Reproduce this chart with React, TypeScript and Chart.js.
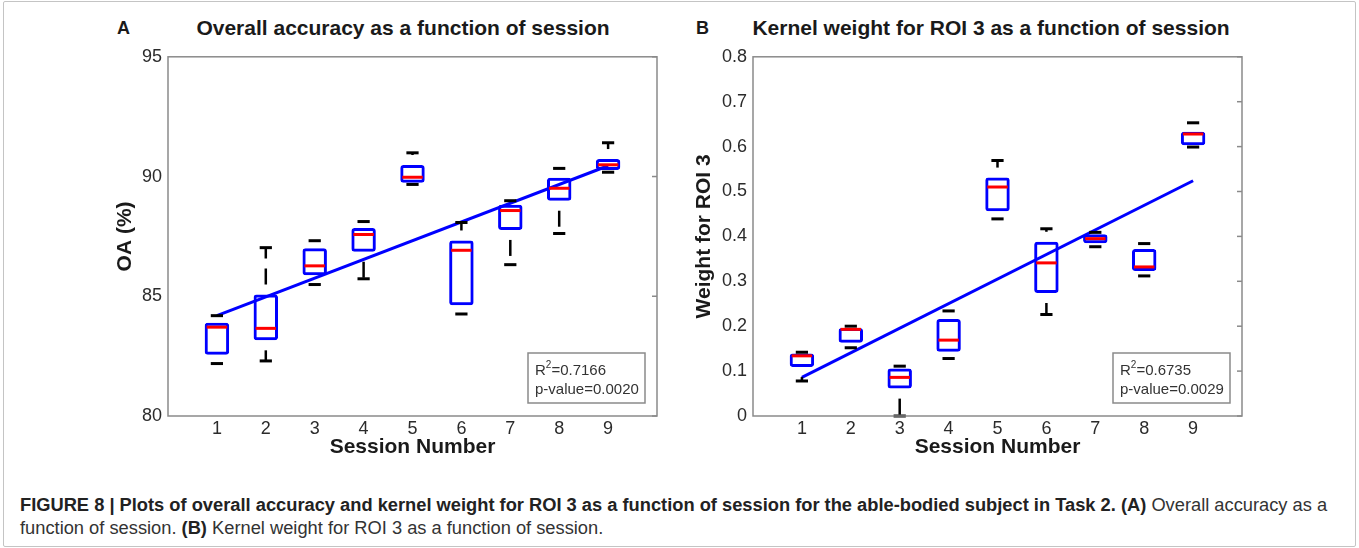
import React, { useEffect, useRef } from "react";
import { Chart, registerables } from "chart.js";

Chart.register(...registerables);

const FONT = '"Liberation Sans", Arial, sans-serif';
Chart.defaults.font.family = FONT;

// ---------- data ----------
const sessions = [1, 2, 3, 4, 5, 6, 7, 8, 9];
const xTickLabels = ["1", "2", "3", "4", "5", "6", "7", "8", "9"];

// Panel A: overall accuracy (%)
const oaLower = [82.19, 82.3, 85.49, 85.73, 89.67, 84.26, 86.32, 87.62, 90.18];
const oaQ1 = [82.56, 83.16, 85.88, 86.86, 89.74, 84.63, 87.77, 88.99, 90.27];
const oaMedian = [83.71, 83.66, 86.27, 87.58, 89.97, 86.92, 88.58, 89.51, 90.49];
const oaQ3 = [83.89, 85.07, 87.0, 87.85, 90.48, 87.33, 88.82, 89.95, 90.73];
const oaUpper = [84.19, 87.03, 87.32, 88.12, 90.99, 88.08, 88.99, 90.34, 91.41];
const oaFitX = [1, 9];
const oaFitY = [84.19, 90.45];
const oaStats = ["0.7166", "0.0020"];

// Panel B: kernel weight for ROI 3
const wLower = [0.078, 0.152, 0.0, 0.128, 0.439, 0.226, 0.377, 0.312, 0.599];
const wQ1 = [0.109, 0.163, 0.061, 0.143, 0.456, 0.274, 0.385, 0.323, 0.603];
const wMedian = [0.134, 0.193, 0.086, 0.169, 0.51, 0.341, 0.395, 0.332, 0.628];
const wQ3 = [0.139, 0.196, 0.106, 0.216, 0.531, 0.388, 0.405, 0.372, 0.633];
const wUpper = [0.142, 0.2, 0.111, 0.234, 0.569, 0.417, 0.409, 0.384, 0.653];
const wFitX = [1, 9];
const wFitY = [0.086, 0.524];
const wStats = ["0.6735", "0.0029"];

// ---------- plugins ----------
const boxExtras = {
  id: "boxExtras",
  afterDatasetsDraw(chart: any, _a: any, opts: any) {
    const { ctx } = chart;
    const xs = chart.scales.x;
    const ys = chart.scales.y;
    const seg = (x1: number, y1: number, x2: number, y2: number) => {
      ctx.beginPath();
      ctx.moveTo(x1, y1);
      ctx.lineTo(x2, y2);
      ctx.stroke();
    };
    ctx.save();
    ctx.lineCap = "butt";
    opts.x.forEach((s: number, i: number) => {
      const px = xs.getPixelForValue(s);
      const boxHalf = xs.getPixelForValue(s + 0.25) - px;
      const capHalf = xs.getPixelForValue(s + 0.125) - px;
      const yq1 = ys.getPixelForValue(opts.q1[i]);
      const yq3 = ys.getPixelForValue(opts.q3[i]);
      const ylo = ys.getPixelForValue(opts.lower[i]);
      const yhi = ys.getPixelForValue(opts.upper[i]);
      const ymed = ys.getPixelForValue(opts.median[i]);
      // dashed whiskers
      ctx.strokeStyle = "#000";
      ctx.lineWidth = 2.5;
      ctx.setLineDash([16, 10]);
      ctx.lineDashOffset = 16;
      seg(px, yq3, px, yhi);
      seg(px, yq1, px, ylo);
      // caps
      ctx.setLineDash([]);
      ctx.lineWidth = 3;
      seg(px - capHalf, yhi, px + capHalf, yhi);
      seg(px - capHalf, ylo, px + capHalf, ylo);
      // median
      ctx.strokeStyle = "#ff0000";
      seg(px - boxHalf + 2, ymed, px + boxHalf - 2, ymed);
    });
    ctx.restore();
  },
};

const frame = {
  id: "frame",
  afterDraw(chart: any) {
    const { ctx, chartArea: a } = chart;
    const ys = chart.scales.y;
    ctx.save();
    ctx.strokeStyle = "#8a8a8a";
    ctx.lineWidth = 1.5;
    ctx.strokeRect(a.left, a.top, a.right - a.left, a.bottom - a.top);
    ys.ticks.forEach((t: any) => {
      const py = ys.getPixelForValue(t.value);
      ctx.beginPath();
      ctx.moveTo(a.right - 5, py);
      ctx.lineTo(a.right, py);
      ctx.stroke();
    });
    ctx.restore();
  },
};

const statsBox = {
  id: "statsBox",
  afterDraw(chart: any, _a: any, opts: any) {
    const { ctx, chartArea: a } = chart;
    const w = 117;
    const h = 50;
    const x0 = a.right - 12 - w;
    const y0 = a.bottom - 13 - h;
    ctx.save();
    ctx.fillStyle = "#fff";
    ctx.fillRect(x0, y0, w, h);
    ctx.strokeStyle = "#8a8a8a";
    ctx.lineWidth = 1.5;
    ctx.strokeRect(x0, y0, w, h);
    ctx.fillStyle = "#333";
    ctx.textBaseline = "middle";
    ctx.textAlign = "left";
    ctx.font = `15px ${FONT}`;
    const tx = x0 + 7;
    const l1 = y0 + 18;
    const l2 = y0 + 37;
    ctx.fillText("R", tx, l1);
    const wR = ctx.measureText("R").width;
    ctx.font = `10px ${FONT}`;
    ctx.fillText("2", tx + wR, l1 - 6);
    const w2 = ctx.measureText("2").width;
    ctx.font = `15px ${FONT}`;
    ctx.fillText("=" + opts.r2, tx + wR + w2, l1);
    ctx.fillText("p-value=" + opts.p, tx, l2);
    ctx.restore();
  },
};

type PanelProps = {
  left: number;
  top: number;
  width: number;
  height: number;
  yWidth: number;
  yTitlePad: number;
  yMin: number;
  yMax: number;
  yStep: number;
  yTitle: string;
  lower: number[];
  q1: number[];
  median: number[];
  q3: number[];
  upper: number[];
  fitX: number[];
  fitY: number[];
  stats: string[];
};

function Panel(p: PanelProps) {
  const ref = useRef<HTMLCanvasElement>(null);
  useEffect(() => {
    const chart = new Chart(ref.current as HTMLCanvasElement, {
      type: "bar",
      data: {
        datasets: [
          {
            type: "line",
            data: p.fitX.map((x, i) => ({ x, y: p.fitY[i] })),
            borderColor: "#0000ff",
            borderWidth: 3,
            pointRadius: 0,
            order: 0,
          } as any,
          {
            type: "bar",
            data: sessions.map((s, i) => ({ x: s, y: [p.q1[i], p.q3[i]] })),
            borderColor: "#0000ff",
            backgroundColor: "rgba(0,0,0,0)",
            borderWidth: 3,
            borderSkipped: false,
            borderRadius: 3,
            barPercentage: 0.5,
            categoryPercentage: 1,
            order: 1,
          } as any,
        ],
      },
      options: {
        responsive: false,
        animation: false,
        layout: { padding: { top: 11, right: 10, bottom: 0, left: 0 } },
        plugins: {
          legend: { display: false },
          tooltip: { enabled: false },
          boxExtras: {
            x: sessions,
            lower: p.lower,
            q1: p.q1,
            median: p.median,
            q3: p.q3,
            upper: p.upper,
          },
          statsBox: { r2: p.stats[0], p: p.stats[1] },
        } as any,
        scales: {
          x: {
            type: "linear",
            min: 0,
            max: 10,
            offset: false,
            grid: { display: false, drawTicks: false },
            border: { display: false },
            afterBuildTicks: (s: any) => {
              s.ticks = sessions.map((v) => ({ value: v }));
            },
            afterFit: (s: any) => {
              s.height = 49;
            },
            ticks: {
              autoSkip: false,
              maxRotation: 0,
              padding: 2,
              color: "#2b2b2b",
              font: { size: 18 },
              callback: (v: any) => xTickLabels[sessions.indexOf(Number(v))] ?? "",
            },
            title: {
              display: true,
              text: "Session Number",
              color: "#1a1a1a",
              font: { size: 21, weight: "bold" },
              padding: { top: 0, bottom: 5 },
            },
          },
          y: {
            type: "linear",
            min: p.yMin,
            max: p.yMax,
            grid: { display: false, drawTicks: false },
            border: { display: false },
            afterFit: (s: any) => {
              s.width = p.yWidth;
            },
            ticks: {
              stepSize: p.yStep,
              padding: 6,
              color: "#2b2b2b",
              font: { size: 18 },
            },
            title: {
              display: true,
              text: p.yTitle,
              color: "#1a1a1a",
              font: { size: 21, weight: "bold" },
              padding: { top: p.yTitlePad, bottom: 0 },
            },
          },
        } as any,
      },
      plugins: [boxExtras, frame, statsBox],
    } as any);
    return () => chart.destroy();
  }, []);
  return (
    <div style={{ position: "absolute", left: p.left, top: p.top, width: p.width, height: p.height }}>
      <canvas ref={ref} width={p.width} height={p.height} style={{ width: p.width, height: p.height, display: "block" }} />
    </div>
  );
}

const labelStyle: React.CSSProperties = {
  position: "absolute",
  fontWeight: "bold",
  color: "#1a1a1a",
  whiteSpace: "nowrap",
  lineHeight: "24px",
};

export default function App() {
  return (
    <div
      style={{
        position: "absolute",
        left: 0,
        top: 0,
        width: 1359,
        height: 548,
        background: "#fff",
        fontFamily: FONT,
        overflow: "hidden",
      }}
    >
      <div
        style={{
          position: "absolute",
          left: 3,
          top: 1,
          width: 1351,
          height: 544,
          border: "1px solid #c4c4c4",
          borderRadius: 2,
        }}
      />
      <div style={{ ...labelStyle, left: 117, top: 16, fontSize: 18 }}>A</div>
      <div style={{ ...labelStyle, left: 103, width: 600, top: 16, fontSize: 21, textAlign: "center" }}>
        Overall accuracy as a function of session
      </div>
      <div style={{ ...labelStyle, left: 696, top: 16, fontSize: 18 }}>B</div>
      <div style={{ ...labelStyle, left: 691, width: 600, top: 16, fontSize: 21, textAlign: "center" }}>
        Kernel weight for ROI 3 as a function of session
      </div>
      <Panel
        left={100}
        top={40}
        width={567}
        height={425}
        yWidth={68}
        yTitlePad={13}
        yMin={80}
        yMax={95}
        yStep={5}
        yTitle="OA (%)"
        lower={oaLower}
        q1={oaQ1}
        median={oaMedian}
        q3={oaQ3}
        upper={oaUpper}
        fitX={oaFitX}
        fitY={oaFitY}
        stats={oaStats}
      />
      <Panel
        left={680}
        top={40}
        width={572}
        height={425}
        yWidth={73}
        yTitlePad={12}
        yMin={0}
        yMax={0.8}
        yStep={0.1}
        yTitle="Weight for ROI 3"
        lower={wLower}
        q1={wQ1}
        median={wMedian}
        q3={wQ3}
        upper={wUpper}
        fitX={wFitX}
        fitY={wFitY}
        stats={wStats}
      />
      <div
        style={{
          position: "absolute",
          left: 20,
          top: 493,
          fontFamily: FONT,
          fontSize: 18.3,
          lineHeight: "23px",
          color: "#333",
          width: 1335,
        }}
      >
        <div style={{ whiteSpace: "nowrap" }}>
          <b style={{ color: "#222" }}>
            FIGURE 8 | Plots of overall accuracy and kernel weight for ROI 3 as a function of session for the
            able-bodied subject in Task 2. (A)
          </b>{" "}
          Overall accuracy as a
        </div>
        <div style={{ whiteSpace: "nowrap" }}>
          function of session. <b style={{ color: "#222" }}>(B)</b> Kernel weight for ROI 3 as a function of
          session.
        </div>
      </div>
    </div>
  );
}
